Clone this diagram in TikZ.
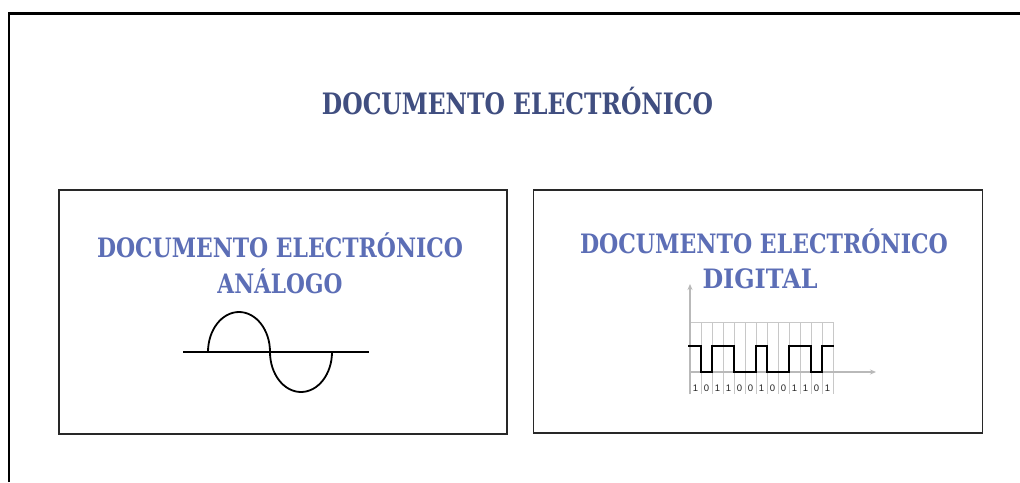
\documentclass[tikz,border=0pt]{standalone}
\usepackage{fontspec}
\usepackage{graphicx}
\setmainfont{DejaVu Serif}
\newfontfamily\digfont{Liberation Sans}
\usetikzlibrary{arrows.meta}
\definecolor{titleblue}{RGB}{64,78,128}
\definecolor{subblue}{RGB}{92,110,182}
\definecolor{gridgray}{RGB}{200,200,200}
\definecolor{axisgray}{RGB}{185,185,185}
\definecolor{boxline}{RGB}{40,40,40}
\tikzset{
  maintitle/.style={anchor=base, inner sep=0pt, text=titleblue, font=\fontsize{29.5}{33}\selectfont\bfseries},
  subtitle/.style={anchor=base, inner sep=0pt, text=subblue, font=\fontsize{26.7}{30}\selectfont\bfseries},
  panel/.style={draw=boxline, line width=1.8pt},
  bitlabel/.style={inner sep=0pt, text=black!85, font=\digfont\fontsize{9.5}{10}\selectfont},
  gridline/.style={draw=gridgray, line width=0.8pt},
  axisline/.style={draw=axisgray, line width=1.2pt, -{Stealth[length=6pt,width=5pt]}},
  wave/.style={draw=black, line width=2pt, line join=miter}
}
\begin{document}
\begin{tikzpicture}[x=1pt,y=-1pt]
\useasboundingbox (0,0) rectangle (1020,482);
\fill[white] (0,0) rectangle (1020,482);
% outer frame
\draw[line width=2.5pt, black] (9,482) -- (9,13.5) -- (1020,13.5);
% title
\node[maintitle] (title) at (517.5,114) {\resizebox{391pt}{\height}{DOCUMENTO ELECTRÓNICO}};
% panels
\node[panel, minimum width=448pt, minimum height=244pt, inner sep=0pt] (left) at (283,312) {};
\node[panel, minimum width=449pt, minimum height=243pt, inner sep=0pt] (right) at (758,311.5) {};
% left subtitles
\node[subtitle] (la) at (280,257) {\resizebox{366pt}{\height}{DOCUMENTO ELECTRÓNICO}};
\node[subtitle] (lb) at (280,293) {\resizebox{125pt}{\height}{ANÁLOGO}};
% right subtitles
\node[subtitle] (ra) at (764,253) {\resizebox{368pt}{\height}{DOCUMENTO ELECTRÓNICO}};
\node[subtitle] (rb) at (760,288) {\resizebox{115pt}{\height}{DIGITAL}};
% analog signal
\draw[line width=1.8pt] (183,352) -- (369,352);
\draw[line width=1.8pt] (208,352) arc[start angle=180, end angle=360, x radius=31, y radius=40]
  arc[start angle=180, end angle=0, x radius=31, y radius=40];
% digital grid
\foreach \i in {0,...,13} {
  \draw[gridline] (690+11*\i,322) -- (690+11*\i,394);
}
\draw[gridline] (690,322) -- (833,322);
\coordinate (yb) at (690,394);
\coordinate (yt) at (690,284);
\coordinate (xl) at (690,372);
\coordinate (xr) at (876,372);
\draw[axisline] (yb) -- (yt);
\draw[axisline] (xl) -- (xr);
% square wave: bits 1011001001101
\draw[wave] (688,346) -- (701,346) -- (701,372) -- (712,372) -- (712,346) -- (734,346)
  -- (734,372) -- (756,372) -- (756,346) -- (767,346) -- (767,372) -- (789,372)
  -- (789,346) -- (811,346) -- (811,372) -- (822,372) -- (822,346) -- (834,346);
% bit labels
\foreach \b [count=\k from 0] in {1,0,1,1,0,0,1,0,0,1,1,0,1} {
  \node[bitlabel] (bit\k) at (695.5+11*\k,388) {\b};
}
\end{tikzpicture}
\end{document}
